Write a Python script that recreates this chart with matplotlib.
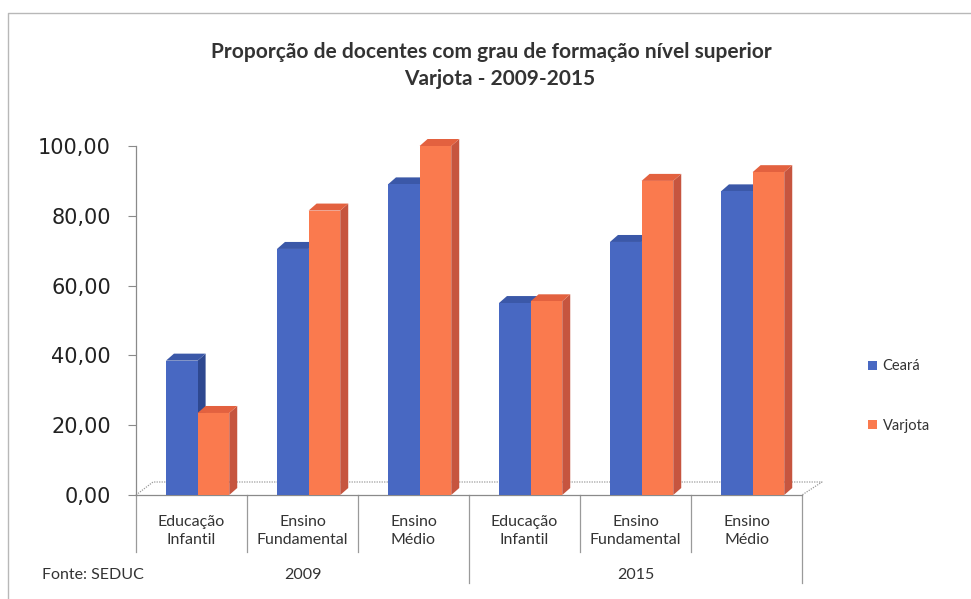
import matplotlib
matplotlib.use("Agg")
import matplotlib.pyplot as plt
from matplotlib.patches import Polygon, Rectangle, Patch

# Data
years = ["2009", "2015"]
categories = ["Educação\nInfantil", "Ensino\nFundamental", "Ensino\nMédio",
              "Educação\nInfantil", "Ensino\nFundamental", "Ensino\nMédio"]
ceara = [38.5, 70.5, 89.0, 55.0, 72.5, 87.0]
varjota = [23.5, 81.5, 100.0, 55.5, 90.0, 92.5]
series_names = ["Ceará", "Varjota"]
yticks = [0, 20, 40, 60, 80, 100]

# face colours: front, top, side
blue = ("#4868C2", "#3B58A8", "#2E4890")
orange = ("#FA7A4E", "#E3613F", "#C6553F")

W, H = 971, 599
fig = plt.figure(figsize=(W / 100, H / 100), dpi=100)
fig.patch.set_facecolor("white")

# chart border (left and top edges visible in the crop)
fig.add_artist(plt.Line2D([8 / W, 8 / W, 1.0], [0.0, 1 - 13 / H, 1 - 13 / H],
                          transform=fig.transFigure, color="#b8b8b8", lw=1.0))

left, right, bottom, top = 136, 802, 495, 146
ax = fig.add_axes([left / W, 1 - bottom / H, (right - left) / W, (bottom - top) / H])
ax.set_xlim(0, 6)
ax.set_ylim(0, 100)
ax.patch.set_alpha(0)

px_x = 6 / (right - left)
px_y = 100 / (bottom - top)

# floor of the 3d plot
fdx, fdy = 17 * px_x, 13 * px_y
ax.plot([0, fdx, 6 + fdx + 3 * px_x, 6], [0, fdy, fdy, 0], color="#9a9a9a", lw=0.9,
        ls=(0, (1, 1)), clip_on=False, zorder=1)

# bars with depth
bw = 0.285
x0 = 0.27
dx, dy = 8 * px_x, 7 * px_y


def bar3d(x, h, cols):
    front, topc, side = cols
    ax.add_patch(Polygon([(x + bw, 0), (x + bw + dx, dy), (x + bw + dx, h + dy), (x + bw, h)],
                         closed=True, facecolor=side, edgecolor="none", clip_on=False, zorder=3))
    ax.add_patch(Polygon([(x, h), (x + dx, h + dy), (x + bw + dx, h + dy), (x + bw, h)],
                         closed=True, facecolor=topc, edgecolor="none", clip_on=False, zorder=3))
    ax.add_patch(Rectangle((x, 0), bw, h, facecolor=front, edgecolor="none",
                           clip_on=False, zorder=3))


for i in range(len(categories)):
    bar3d(i + x0, ceara[i], blue)
    bar3d(i + x0 + bw, varjota[i], orange)

# axes styling
for s in ["top", "right"]:
    ax.spines[s].set_visible(False)
ax.spines["left"].set_color("#8a8a8a")
ax.spines["bottom"].set_color("#8a8a8a")
ax.spines["left"].set_linewidth(0.9)
ax.spines["bottom"].set_linewidth(0.9)
ax.set_yticks(yticks)
ax.set_yticklabels([f"{v:.2f}".replace(".", ",") for v in yticks], fontsize=15,
                   family="DejaVu Sans", color="#222222")
ax.tick_params(axis="y", length=6, color="#8a8a8a", pad=12)
ax.set_xticks([])

# category labels and dividers
lab_font = dict(family="Lato", fontsize=11.5, color="#333333")
for i, c in enumerate(categories):
    ax.text(i + 0.5, -36 / (bottom - top), c, transform=ax.get_xaxis_transform(),
            ha="center", va="center", linespacing=1.3, **lab_font)
for i in range(7):
    long_line = i in (3, 6)
    y_end = -(88 if long_line else 57) / (bottom - top)
    ax.plot([i, i], [0, y_end], transform=ax.get_xaxis_transform(), color="#9a9a9a",
            lw=0.9, clip_on=False)
for j, yr in enumerate(years):
    ax.text(j * 3 + 1.5, -80 / (bottom - top), yr, transform=ax.get_xaxis_transform(),
            ha="center", va="center", **lab_font)

fig.text(42 / W, 1 - 575 / H, "Fonte: SEDUC", ha="left", va="center", **lab_font)

# title
title_font = dict(family="Lato", fontsize=15, fontweight="bold", color="#333333")
fig.text(491 / W, 1 - 52 / H, "Proporção de docentes com grau de formação nível superior",
         ha="center", va="center", **title_font)
fig.text(500 / W, 1 - 79 / H, "Varjota - 2009-2015", ha="center", va="center", **title_font)

# legend
handles = [Patch(facecolor=blue[0], edgecolor="none"), Patch(facecolor=orange[0], edgecolor="none")]
fig.legend(handles, series_names, loc="center left", bbox_to_anchor=(855 / W, 1 - 396 / H),
           frameon=False, prop=dict(family="Lato", size=10.5), handlelength=0.6, handleheight=0.6,
           handletextpad=0.4, labelspacing=3.1, labelcolor="#333333")

fig.savefig("out.png", dpi=100)
